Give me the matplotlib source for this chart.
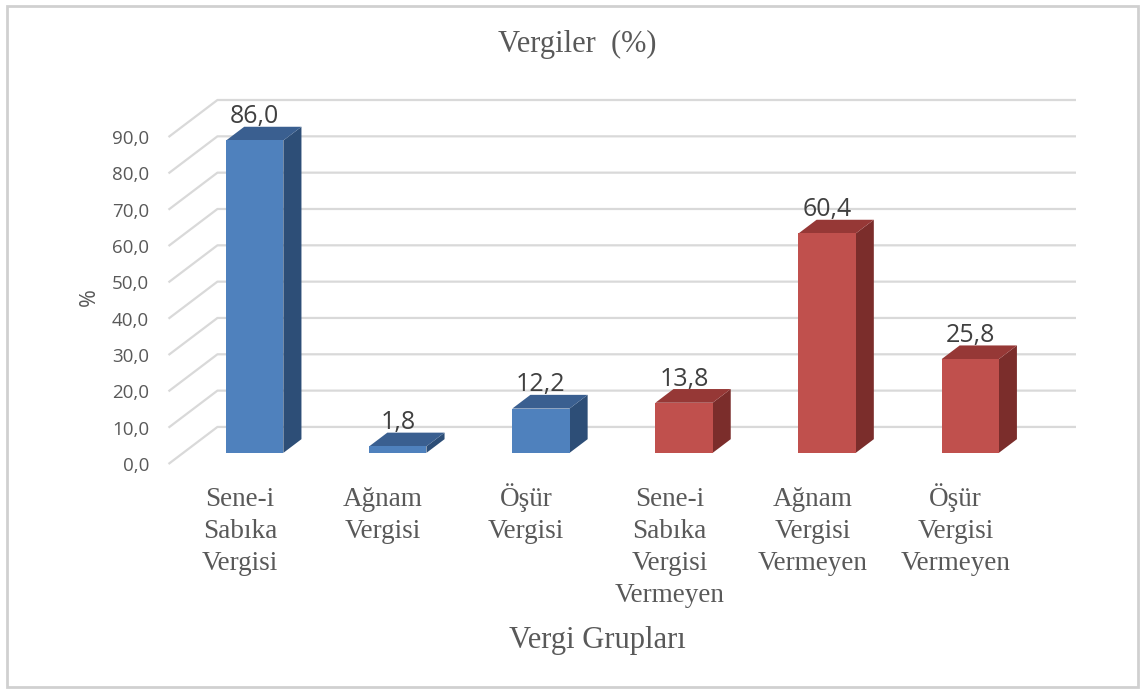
import matplotlib
matplotlib.use("Agg")
import matplotlib.pyplot as plt
import matplotlib.transforms as mtransforms
from matplotlib.patches import Rectangle

# ---------------- data ----------------
categories = ["Sene-i\nSabıka\nVergisi", "Ağnam\nVergisi", "Öşür\nVergisi",
              "Sene-i\nSabıka\nVergisi\nVermeyen", "Ağnam\nVergisi\nVermeyen",
              "Öşür\nVergisi\nVermeyen"]
values = [86.0, 1.8, 12.2, 13.8, 60.4, 25.8]
groups = ["blue", "blue", "blue", "red", "red", "red"]
yticks = [0, 10, 20, 30, 40, 50, 60, 70, 80, 90]
ytick_labels = ["0,0", "10,0", "20,0", "30,0", "40,0", "50,0", "60,0", "70,0", "80,0", "90,0"]
title = "Vergiler  (%)"
xlabel = "Vergi Grupları"
ylabel = "%"

# ---------------- style ----------------
palette = {
    "blue": {"front": "#4f81bd", "top": "#3a5f90", "side": "#2d4e77"},
    "red": {"front": "#c0504d", "top": "#963836", "side": "#7b2d2b"},
}
DX, DY = 0.342, 10.2       # oblique depth offset (category units, value units)
ZF, ZB = 0.30, 0.67        # bar front/back depth fraction
W = 0.40                   # bar width
YMAX = 90
GRID = "#d9d9d9"
TXT = "#595959"
H = 689

fig = plt.figure(figsize=(11.4, 6.89), dpi=100)
fig.patch.set_facecolor("white")
ax = fig.add_axes([168.5 / 1140, (H - 464) / H, (1076 - 168.5) / 1140, (464 - 100) / H])
ax.set_xlim(-0.5, len(categories) - 0.5 + DX)
ax.set_ylim(0, YMAX + DY)
for s in ax.spines.values():
    s.set_visible(False)
ax.set_facecolor("none")

# gridlines: side wall diagonal + back wall
x0 = -0.5
x1 = len(categories) - 0.5 + DX
for v in yticks:
    ax.plot([x0, x0 + DX, x1], [v, v + DY, v + DY], color=GRID, lw=1.6,
            solid_capstyle="butt", zorder=1, clip_on=False)

# bars
for i, (v, g) in enumerate(zip(values, groups)):
    c = palette[g]
    xl = i - W / 2 + ZF * DX
    xr = xl + W
    yb = ZF * DY
    yt = v + ZF * DY
    d_x = (ZB - ZF) * DX
    d_y = (ZB - ZF) * DY
    ax.fill([xr, xr + d_x, xr + d_x, xr], [yb, yb + d_y, yt + d_y, yt],
            color=c["side"], lw=0, zorder=3)
    ax.fill([xl, xr, xr + d_x, xl + d_x], [yt, yt, yt + d_y, yt + d_y],
            color=c["top"], lw=0, zorder=3)
    ax.bar(i + ZF * DX, v, width=W, bottom=yb, color=c["front"], lw=0, zorder=4)
    ax.annotate(f"{v:.1f}".replace(".", ","), xy=(i + ZF * DX, yt + d_y),
                xytext=(0, 2.5), textcoords="offset points", ha="center", va="baseline",
                fontsize=18, family="Open Sans", color="#404040", zorder=5,
                annotation_clip=False)

ax.set_yticks(yticks)
ax.set_yticklabels(ytick_labels, family="Open Sans", fontsize=13.5, color=TXT)
ax.tick_params(axis="y", length=0, pad=14)
ax.set_xticks([])

# category labels: each line on its own baseline (first baseline 506 px, step 32 px)
FIRST_BASE = 506 - 464
STEP = 32
for i, lab in enumerate(categories):
    for k, line in enumerate(lab.split("\n")):
        off = mtransforms.ScaledTranslation(0, -(FIRST_BASE + k * STEP) / 100, fig.dpi_scale_trans)
        ax.text(i, 0, line, transform=ax.transData + off, ha="center", va="baseline",
                family="Liberation Serif", fontsize=19.5, color=TXT, clip_on=False)

fig.text(577 / 1140, 1 - 52 / H, title, family="Liberation Serif", fontsize=22,
         color=TXT, ha="center", va="baseline")
fig.text(597 / 1140, 1 - 648 / H, xlabel, family="Liberation Serif", fontsize=22,
         color=TXT, ha="center", va="baseline")
fig.text(89 / 1140, 1 - 297 / H, ylabel, family="Open Sans", fontsize=15.5,
         color=TXT, ha="center", va="center", rotation=90)

# outer frame
fig.patches.append(Rectangle((7 / 1140, 1 - 687 / H), (1138 - 7) / 1140, (687 - 6) / H,
                             transform=fig.transFigure, fill=False, edgecolor="#d0d0d0",
                             lw=2, zorder=0))

fig.savefig("out.png", dpi=100, facecolor="white")
